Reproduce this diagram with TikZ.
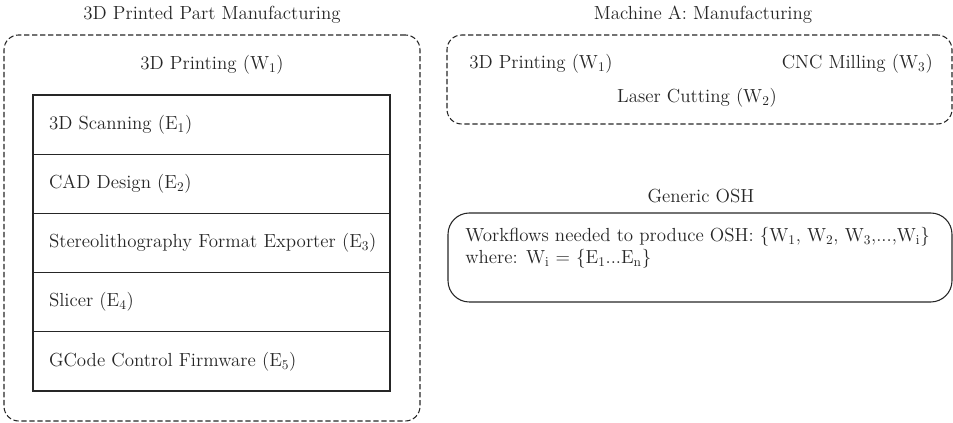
\documentclass[tikz,border=0pt]{standalone}
\newcommand{\rowtxt}[1]{\makebox[243.75pt][l]{#1}}
\begin{document}
\begin{tikzpicture}[x=0.75pt,y=-0.75pt,
  every node/.style={font=\fontsize{14.2}{17}\selectfont, text=black!85},
  dashbox/.style={draw=black!85, line width=0.8pt, dash pattern=on 4pt off 2pt, rounded corners=11pt, inner sep=0pt},
  solidbox/.style={draw=black!85, line width=0.8pt, rounded corners=16pt, inner sep=0pt},
  rowbox/.style={draw=black!85, line width=0.9pt, minimum width=267.75pt, minimum height=44.4pt,
     inner xsep=12pt},
  title/.style={inner sep=0pt}
]
\useasboundingbox (0,0) rectangle (953,423);
% left group
\node[title] (t1) at (212,15) {3D Printed Part Manufacturing};
\node[dashbox, minimum width=312pt, minimum height=289.5pt] (outer) at (212,228) {};
\node[title] (w1) at (212,65) {3D Printing (W$_1$)};
\node[rowbox] (e1) at (211.5,124.6) {\rowtxt{3D Scanning (E$_1$)}};
\node[rowbox] (e2) at (211.5,183.8) {\rowtxt{CAD Design (E$_2$)}};
\node[rowbox] (e3) at (211.5,243.0) {\rowtxt{Stereolithography Format Exporter (E$_3$)}};
\node[rowbox] (e4) at (211.5,302.2) {\rowtxt{Slicer (E$_4$)}};
\node[rowbox] (e5) at (211.5,361.4) {\rowtxt{GCode Control Firmware (E$_5$)}};
% machine A
\node[title] (t2) at (703,15) {Machine A: Manufacturing};
\node[dashbox, minimum width=378.75pt, minimum height=66.75pt] (mach) at (699.5,79.5) {};
\node[title, anchor=west] (m1) at (469,64) {3D Printing (W$_1$)};
\node[title, anchor=east] (m3) at (933,64) {CNC Milling (W$_3$)};
\node[title] (m2) at (697,98) {Laser Cutting (W$_2$)};
% generic
\node[title] (t3) at (701,196) {Generic OSH};
\node[solidbox, minimum width=378pt, minimum height=66.75pt] (gen) at (700,257.5) {};
\node[title, anchor=west, align=left, font=\fontsize{14.2}{16.5}\selectfont] (gtxt) at (465,248)
  {Workflows needed to produce OSH: \{W$_1$, W$_2$, W$_3$,...,W$_\mathrm{i}$\}\\
   where: W$_{\mathrm{i}}$ = \{E$_1$...E$_\mathrm{n}$\}};
\end{tikzpicture}
\end{document}
